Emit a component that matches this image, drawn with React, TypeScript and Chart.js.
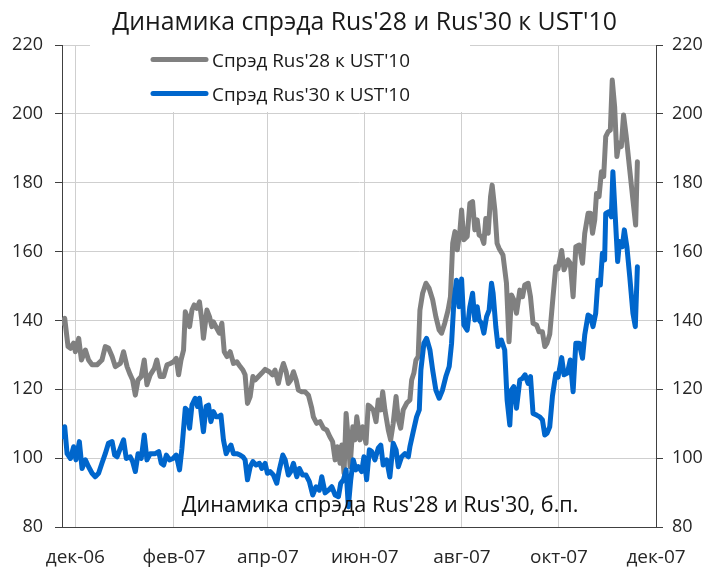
import { useEffect, useRef } from "react";
import { Chart, registerables } from "chart.js";

Chart.register(...registerables);

const FONT = "'Open Sans', 'Noto Sans', sans-serif";
const TEXT_COLOR = "#262626";

const TITLE = "Динамика спрэда Rus'28 и Rus'30 к UST'10";
const CAPTION = "Динамика спрэда Rus'28 и Rus'30, б.п.";
const SERIES_28 = "Спрэд Rus'28 к UST'10";
const SERIES_30 = "Спрэд Rus'30 к UST'10";

// x values are days counted from 1 Dec 2006
const tickDays = [0, 62, 121, 182, 243, 304, 365];
const tickLabels = ["дек-06", "фев-07", "апр-07", "июн-07", "авг-07", "окт-07", "дек-07"];
const yMin = 80;
const yMax = 220;
const yStep = 20;

const rus28Days = [
  -8.0, -6.7, -4.6, -3.1, -1.1, 0, 2.1, 3.8, 6.3, 8.3, 10.5, 13.6, 16.7, 18.8, 20.8, 23.1, 25.1, 28.3, 30.3, 32.5,
  34.5, 36.0, 37.7, 39.4, 41.4, 43.3, 45.0, 47.1, 49.7, 51.2, 53.3, 55.5, 57.6, 59.7, 61.7, 63.4, 64.9, 66.4, 68.0, 69.1,
  70.2, 71.8, 73.3, 74.7, 76.4, 78.0, 79.5, 80.5, 82.7, 84.3, 85.8, 86.8, 88.9, 90.5, 92.1, 93.6, 95.3, 97.3, 99.4, 101.5,
  103.6, 105.3, 106.7, 108.2, 109.9, 111.6, 113.0, 115.1, 117.2, 119.3, 121.9, 124.0, 125.5, 127.6, 129.2, 130.8, 132.5, 133.9, 135.4, 137.1,
  138.8, 140.2, 142.3, 144.4, 146.5, 148.6, 149.6, 151.7, 153.8, 155.9, 158.0, 160.0, 161.7, 163.3, 164.7, 166.4, 167.5, 168.9, 170.2, 171.6,
  172.7, 174.4, 175.8, 176.9, 178.9, 180.6, 182.7, 184.1, 185.2, 187.3, 189.0, 190.4, 192.0, 193.2, 194.6, 196.7, 198.2, 199.8, 201.6, 203.0,
  204.5, 206.1, 208.3, 210.3, 211.4, 212.8, 214.1, 215.5, 216.6, 218.3, 220.4, 222.4, 224.6, 226.6, 228.7, 230.2, 232.2, 234.3, 235.8, 237.2,
  238.6, 240.1, 241.7, 242.8, 244.2, 246.3, 248.0, 249.7, 251.1, 252.6, 253.8, 255.3, 256.8, 258.0, 259.5, 261.0, 262.0, 263.7, 265.1, 266.3,
  268.8, 271.0, 272.6, 274.2, 275.6, 277.3, 279.4, 281.1, 282.5, 284.6, 286.1, 287.7, 289.9, 291.5, 293.6, 295.1, 296.5, 298.2, 300.3, 302.0,
  303.4, 305.7, 307.2, 309.6, 311.1, 312.9, 314.6, 316.7, 318.8, 320.2, 322.3, 323.8, 325.1, 326.5, 327.6, 329.2, 330.7, 332.1, 333.4, 334.9,
  336.3, 337.5, 339.0, 340.4, 341.7, 343.2, 344.6, 346.3, 348.5, 350.5, 352.2, 353.3,
];
const rus28Values = [
  139.2, 140.6, 132.4, 131.9, 133.4, 130.9, 134.8, 128.5, 131.4, 128.5, 127.1, 127.1, 128.5, 132.4, 132.0, 129.5, 126.6, 127.5, 130.9, 126.6,
  124.2, 122.7, 118.3, 122.7, 123.7, 128.5, 121.3, 124.2, 126.1, 128.5, 123.7, 123.7, 127.1, 127.5, 128.0, 129.0, 124.2, 128.5, 131.4, 142.5,
  141.1, 138.2, 143.0, 144.5, 143.5, 145.4, 140.1, 134.8, 143.0, 141.1, 138.2, 139.6, 137.7, 136.3, 139.2, 130.9, 129.5, 130.9, 127.5, 128.0,
  126.6, 125.6, 124.2, 115.9, 117.9, 123.7, 122.7, 123.7, 124.7, 125.8, 125.1, 124.2, 125.6, 121.7, 125.1, 127.5, 125.1, 121.7, 122.7, 125.1,
  122.7, 119.8, 119.3, 119.3, 118.3, 114.5, 112.0, 110.1, 110.6, 108.7, 108.2, 106.2, 104.8, 99.5, 103.3, 98.5, 103.8, 95.6, 113.0, 105.3,
  97.5, 109.1, 105.3, 112.0, 105.3, 109.1, 104.3, 115.4, 115.0, 114.0, 110.6, 116.9, 114.0, 119.3, 114.0, 108.2, 105.3, 110.1, 117.9, 111.1,
  108.7, 114.0, 116.0, 116.9, 122.7, 124.7, 128.5, 129.5, 143.0, 147.9, 150.8, 149.3, 146.0, 141.1, 137.2, 136.3, 139.2, 143.0, 146.9, 162.4,
  165.8, 160.5, 165.8, 172.1, 163.4, 164.4, 174.0, 174.5, 166.3, 169.2, 164.8, 164.4, 162.4, 169.6, 165.3, 176.0, 179.3, 172.1, 162.4, 161.0,
  159.0, 150.8, 133.8, 147.4, 146.0, 142.1, 148.8, 146.9, 150.3, 150.8, 146.9, 139.2, 138.7, 136.7, 136.7, 132.4, 133.4, 136.0, 147.0, 155.6,
  155.0, 160.3, 154.7, 157.6, 156.6, 146.9, 161.4, 161.9, 156.6, 165.3, 171.1, 171.1, 165.3, 169.2, 176.9, 176.0, 183.2, 181.8, 193.4, 194.8,
  195.3, 209.8, 202.1, 187.6, 191.5, 190.5, 199.7, 193.4, 183.7, 175.0, 167.7, 186.1,
];

const rus30Days = [
  -8.0, -6.7, -5.2, -3.1, -1.1, 0.4, 2.5, 4.2, 6.3, 8.3, 10.5, 12.5, 14.6, 16.7, 18.8, 20.8, 23.1, 24.7, 26.2, 28.3,
  30.3, 32.0, 34.5, 36.0, 37.7, 39.4, 41.4, 43.3, 45.0, 47.1, 50.2, 52.4, 54.0, 55.5, 57.2, 59.2, 61.4, 63.4, 65.5, 67.0,
  69.1, 70.2, 71.8, 73.3, 75.3, 76.8, 78.0, 79.1, 80.5, 82.2, 83.7, 85.2, 86.8, 88.5, 90.0, 91.5, 93.1, 94.8, 96.5, 97.8,
  99.4, 101.5, 103.6, 105.3, 106.7, 108.2, 109.9, 111.6, 113.6, 115.7, 117.2, 119.3, 120.7, 122.4, 124.5, 126.6, 128.2, 130.4, 131.9, 133.9,
  135.4, 137.1, 139.2, 140.8, 142.9, 145.0, 147.1, 149.2, 151.3, 153.4, 154.9, 157.0, 159.1, 161.2, 163.3, 165.4, 166.8, 168.5, 170.2, 171.6,
  173.1, 174.7, 176.4, 177.9, 180.0, 181.4, 183.1, 184.8, 186.3, 188.3, 190.4, 192.0, 193.5, 195.7, 197.7, 199.8, 201.6, 203.0, 205.1, 207.2,
  209.3, 210.3, 212.4, 214.5, 216.2, 217.2, 219.1, 220.8, 222.9, 224.6, 226.6, 228.7, 230.8, 232.9, 235.0, 236.5, 237.9, 239.6, 241.2, 242.8,
  244.2, 246.3, 248.0, 249.7, 251.1, 252.6, 253.8, 255.3, 256.8, 258.5, 260.1, 261.6, 262.6, 264.3, 265.7, 267.8, 269.9, 271.4, 273.1, 274.2,
  275.6, 277.3, 279.4, 281.1, 282.7, 284.6, 286.1, 287.7, 289.9, 291.9, 293.6, 295.1, 296.5, 298.2, 299.9, 302.0, 303.4, 305.7, 307.2, 309.3,
  311.1, 312.9, 314.6, 316.7, 318.8, 320.2, 322.3, 323.8, 325.4, 327.1, 328.5, 330.0, 331.3, 332.7, 333.4, 335.4, 336.9, 337.9, 339.4, 340.9,
  342.1, 343.8, 345.1, 346.7, 348.5, 350.5, 352.0, 353.3,
];
const rus30Values = [
  106.2, 109.1, 101.3, 99.9, 103.3, 99.5, 104.8, 97.0, 99.5, 97.5, 95.6, 94.6, 95.6, 98.5, 101.3, 104.3, 104.8, 100.9, 100.4, 102.9,
  105.3, 99.9, 100.4, 99.0, 96.1, 101.3, 99.9, 106.7, 99.5, 101.3, 101.3, 101.9, 98.5, 98.0, 100.9, 99.5, 99.9, 100.9, 96.6, 102.9,
  114.5, 114.0, 108.7, 115.4, 117.4, 115.0, 117.4, 113.0, 107.7, 115.0, 115.4, 110.6, 113.5, 112.0, 112.0, 112.5, 105.3, 101.3, 102.9, 103.8,
  101.3, 101.3, 100.9, 100.4, 99.5, 93.7, 97.5, 99.0, 98.0, 98.5, 97.0, 98.5, 95.6, 96.1, 95.1, 92.7, 96.6, 100.9, 99.5, 95.1,
  96.1, 98.5, 94.6, 97.0, 95.1, 95.1, 93.2, 89.3, 91.7, 90.7, 94.6, 89.9, 90.7, 91.7, 89.3, 88.8, 92.7, 93.7, 96.6, 85.9,
  93.7, 99.5, 96.6, 97.5, 96.1, 100.4, 93.7, 102.4, 101.9, 99.5, 102.9, 103.8, 98.0, 99.5, 94.5, 104.3, 102.4, 97.5, 100.4, 101.3,
  100.4, 103.3, 107.7, 112.0, 114.0, 125.6, 133.4, 134.8, 131.4, 125.6, 119.8, 117.4, 119.8, 123.7, 126.6, 133.4, 145.0, 151.7, 144.0, 152.0,
  138.7, 137.2, 144.0, 147.9, 140.1, 144.0, 140.1, 139.2, 136.3, 141.1, 143.0, 150.8, 147.9, 138.2, 132.4, 134.3, 131.4, 116.9, 109.6, 119.8,
  120.8, 114.5, 122.7, 123.2, 124.2, 121.7, 123.7, 113.0, 112.5, 112.0, 111.1, 106.7, 107.2, 109.1, 118.0, 124.5, 123.5, 129.2, 124.2, 124.7,
  128.5, 119.3, 133.4, 133.4, 129.0, 135.8, 141.6, 141.1, 138.2, 142.1, 151.7, 150.3, 159.5, 157.6, 171.1, 171.6, 170.1, 183.2, 170.1, 157.1,
  162.9, 161.4, 166.3, 161.4, 152.7, 142.1, 138.2, 155.6,
];

const GREY = "#808080";
const BLUE = "#0066CC";

function fitSize(ctx: CanvasRenderingContext2D, text: string, width: number) {
  ctx.font = `100px ${FONT}`;
  const w = ctx.measureText(text).width;
  return (100 * width) / w;
}

const overlay = {
  id: "overlay",
  beforeDatasetsDraw(chart: any) {
    const ctx: CanvasRenderingContext2D = chart.ctx;
    ctx.save();
    ctx.fillStyle = "#ffffff";
    ctx.fillRect(90, 38, 380, 74);
    ctx.restore();
  },
  afterDraw(chart: any) {
    const ctx: CanvasRenderingContext2D = chart.ctx;
    ctx.save();
    // title
    const ts = fitSize(ctx, TITLE, 505);
    ctx.font = `${ts}px ${FONT}`;
    ctx.fillStyle = "#1a1a1a";
    ctx.textAlign = "center";
    ctx.textBaseline = "alphabetic";
    ctx.fillText(TITLE, 364.5, 30);

    // legend
    const items = [
      { label: SERIES_28, color: GREY, y: 59.5 },
      { label: SERIES_30, color: BLUE, y: 93.5 },
    ];
    const ls = fitSize(ctx, SERIES_28, 198);
    items.forEach((it) => {
      ctx.strokeStyle = it.color;
      ctx.lineWidth = 5;
      ctx.lineCap = "round";
      ctx.beginPath();
      ctx.moveTo(153, it.y);
      ctx.lineTo(206, it.y);
      ctx.stroke();
      ctx.font = `${ls}px ${FONT}`;
      ctx.fillStyle = "#1a1a1a";
      ctx.textAlign = "left";
      ctx.textBaseline = "middle";
      ctx.fillText(it.label, 212, it.y + 2.5);
    });

    // caption
    const cs = fitSize(ctx, CAPTION, 397);
    ctx.font = `${cs}px ${FONT}`;
    ctx.fillStyle = "#111111";
    ctx.textAlign = "left";
    ctx.textBaseline = "alphabetic";
    ctx.fillText(CAPTION, 181.7, 512);
    ctx.restore();
  },
};

export default function App() {
  const ref = useRef<HTMLCanvasElement>(null);

  useEffect(() => {
    const canvas = ref.current;
    if (!canvas) return;
    const tickFont = { family: FONT, size: 18 };
    const xTickFont = { family: FONT, size: 19 };
    const chart = new Chart(canvas, {
      type: "line",
      data: {
        datasets: [
          {
            label: SERIES_28,
            data: rus28Days.map((d, i) => ({ x: d, y: rus28Values[i] })),
            borderColor: GREY,
            backgroundColor: GREY,
            borderWidth: 5,
            pointRadius: 0,
            tension: 0,
            borderJoinStyle: "round",
            borderCapStyle: "round",
            yAxisID: "y",
            order: 1,
          },
          {
            label: SERIES_30,
            data: rus30Days.map((d, i) => ({ x: d, y: rus30Values[i] })),
            borderColor: BLUE,
            backgroundColor: BLUE,
            borderWidth: 5,
            pointRadius: 0,
            tension: 0,
            borderJoinStyle: "round",
            borderCapStyle: "round",
            yAxisID: "y",
            order: 0,
          },
        ],
      },
      options: {
        responsive: false,
        animation: false,
        events: [],
        layout: { padding: { top: 45, right: 0, bottom: 0, left: 0 } },
        plugins: {
          legend: { display: false },
          title: { display: false },
          tooltip: { enabled: false },
        },
        scales: {
          x: {
            type: "linear",
            min: -8.4,
            max: 365,
            afterBuildTicks: (s: any) => {
              s.ticks = tickDays.map((v) => ({ value: v }));
            },
            afterFit: (s: any) => {
              s.height = 44;
            },
            grid: { color: "#cfcfcf", lineWidth: 1, drawTicks: false },
            border: { display: true, color: "#404040", width: 1 },
            ticks: {
              callback: (v: any) => {
                const i = tickDays.indexOf(Number(v));
                return i >= 0 ? tickLabels[i] : "";
              },
              font: xTickFont,
              color: TEXT_COLOR,
              padding: 19,
              maxRotation: 0,
              autoSkip: false,
            },
          },
          y: {
            position: "left",
            min: yMin,
            max: yMax,
            afterFit: (s: any) => {
              s.width = 62;
            },
            grid: { color: "#cfcfcf", lineWidth: 1, tickColor: "#404040", tickLength: 7 },
            border: { display: true, color: "#404040", width: 1 },
            ticks: { stepSize: yStep, font: tickFont, color: TEXT_COLOR, padding: 12 },
          },
          y2: {
            position: "right",
            min: yMin,
            max: yMax,
            afterFit: (s: any) => {
              s.width = 52;
            },
            grid: { drawOnChartArea: false, tickColor: "#404040", tickLength: 7 },
            border: { display: true, color: "#404040", width: 1 },
            ticks: { stepSize: yStep, font: tickFont, color: TEXT_COLOR, padding: 9 },
          },
        },
      },
      plugins: [overlay],
    } as any);
    return () => chart.destroy();
  }, []);

  return (
    <div style={{ position: "absolute", left: 0, top: 0, width: 708, height: 571, background: "#ffffff" }}>
      <canvas ref={ref} width={708} height={571} style={{ display: "block", width: 708, height: 571 }} />
    </div>
  );
}
